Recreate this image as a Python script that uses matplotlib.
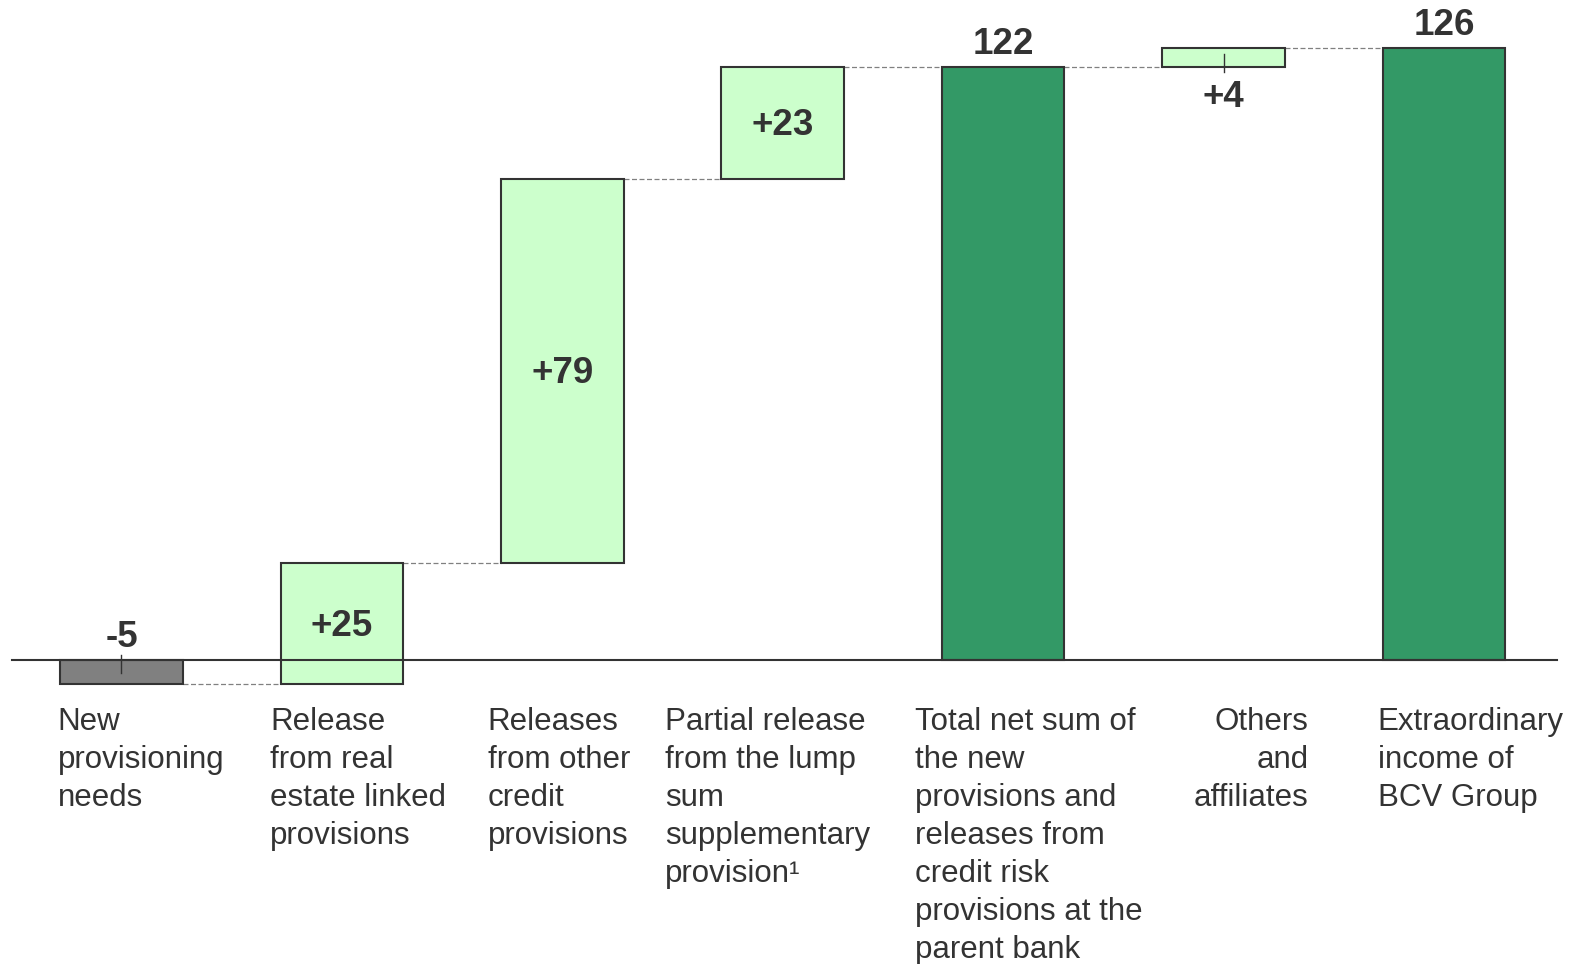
import numpy as np
import matplotlib.pyplot as plt

plt.rcParams['font.family'] = ['Liberation Sans', 'DejaVu Sans']

categories = [
    "New\nprovisioning\nneeds",
    "Release\nfrom real\nestate linked\nprovisions",
    "Releases\nfrom other\ncredit\nprovisions",
    "Partial release\nfrom the lump\nsum\nsupplementary\nprovision\u00b9",
    "Total net sum of\nthe new\nprovisions and\nreleases from\ncredit risk\nprovisions at the\nparent bank",
    "Others\nand\naffiliates",
    "Extraordinary\nincome of\nBCV Group",
]
values = [-5, 25, 79, 23, None, 4, None]   # None = total bar
value_labels = ["-5", "+25", "+79", "+23", "122", "+4", "126"]

# label layout: x offset from bar centre, alignment
label_dx = [-0.29, -0.325, -0.338, -0.534, -0.40, 0.387, -0.301]
label_ha = ["left", "left", "left", "left", "left", "right", "left"]

LIGHT = "#CCFFCC"
DARK = "#339966"
GREY = "#808080"
EDGE = "#333333"
TXT = "#333333"

fig = plt.figure(figsize=(15.87, 9.64), dpi=100)
ax = fig.add_axes([0, 0, 1, 1])
ax.set_xlim(-0.551, 6.649)
ax.set_ylim(-62.5, 135.8)
ax.axis("off")

width = 0.556
cum = 0
bottoms, heights, colors, levels = [], [], [], []
for v in values:
    if v is None:
        bottoms.append(0)
        heights.append(cum)
        colors.append(DARK)
    else:
        bottoms.append(min(cum, cum + v))
        heights.append(abs(v))
        colors.append(GREY if v < 0 else LIGHT)
        cum += v
    levels.append(cum)

x = np.arange(len(values))
ax.bar(x, heights, bottom=bottoms, width=width, color=colors,
       edgecolor=EDGE, linewidth=1.5, zorder=3)

# connectors
for i in range(len(values) - 1):
    ax.plot([x[i] + width / 2, x[i + 1] - width / 2], [levels[i], levels[i]],
            color=GREY, linestyle=(0, (4, 2)), linewidth=0.9, zorder=2)

# zero line
ax.plot([-0.496, 6.512], [0, 0], color=EDGE, linewidth=1.5, zorder=4)

# value labels
start = 0
for i, v in enumerate(values):
    top = bottoms[i] + heights[i]
    if v is None:
        y = top + 4.6
    elif abs(v) <= 5:
        # small bars: tick mark and label outside
        s = np.sign(v)
        ax.plot([x[i], x[i]], [start - s * 1.0, start + s * 2.6],
                color=EDGE, linewidth=1.0, zorder=5)
        y = start - s * 5.5 - 0.8
        start += v
    else:
        y = bottoms[i] + heights[i] / 2 - 0.6
        start += v
    ax.text(x[i], y, value_labels[i], ha="center", va="center",
            fontsize=26.5, fontweight="bold", color=TXT, zorder=6)

# category labels
for i, lab in enumerate(categories):
    ax.text(x[i] + label_dx[i], -9.6, lab, ha=label_ha[i], va="top",
            multialignment=label_ha[i], fontsize=22.5, color=TXT,
            linespacing=1.35)

fig.savefig("out.png", dpi=100)
